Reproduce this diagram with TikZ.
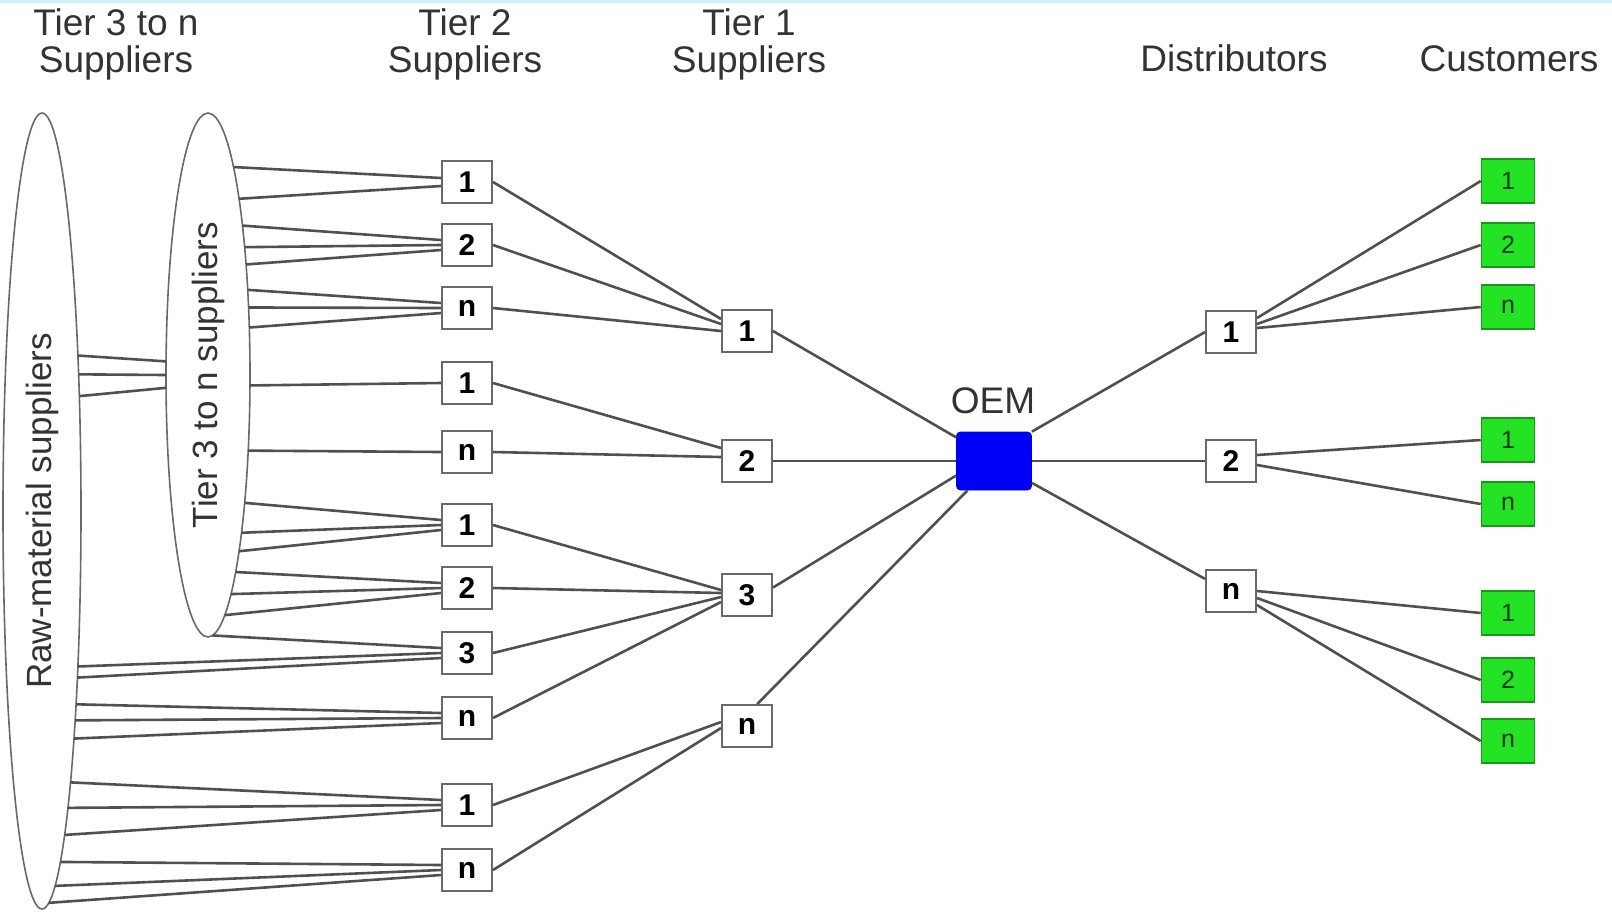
\documentclass[tikz,border=0pt]{standalone}
\usepackage{graphicx}
\usepackage{fontspec}
\setmainfont{Liberation Sans}
\usetikzlibrary{shapes.geometric}

\definecolor{wiregray}{RGB}{80,80,80}
\definecolor{boxgray}{RGB}{105,105,105}
\definecolor{custgreen}{RGB}{36,226,36}
\definecolor{custedge}{RGB}{30,150,30}
\definecolor{custtext}{RGB}{20,55,20}
\definecolor{oemblue}{RGB}{0,0,250}
\definecolor{topband}{RGB}{205,240,250}

\begin{document}
\begin{tikzpicture}[x=0.5pt,y=-0.5pt,
  wire/.style={draw=wiregray,line width=1.3pt},
  hdr/.style={font=\fontsize{18.5}{18.5}\selectfont,align=center,text=black!80,inner sep=0pt},
  lbl/.style={font=\fontsize{18.5}{18.5}\selectfont,text=black!80,inner sep=0pt},
  tierbox/.style={draw=boxgray,line width=1pt,fill=white,minimum width=25pt,
    minimum height=21pt,inner sep=0pt,font=\fontsize{15}{15}\selectfont\bfseries},
  custbox/.style={draw=custedge,line width=0.8pt,fill=custgreen,minimum width=26.5pt,
    minimum height=22pt,inner sep=0pt,font=\fontsize{12.5}{12.5}\selectfont,text=custtext},
  group/.style={ellipse,draw=boxgray,line width=0.8pt,inner sep=0pt,outer sep=0pt,
    font=\fontsize{17.5}{17.5}\selectfont,text=black!80},
]
% canvas and thin top band
\fill[white] (0,0) rectangle (1612,912);
\useasboundingbox (0,0) rectangle (1612,912);
\fill[topband] (0,0) rectangle (1612,3);

% column headings
\node[hdr,anchor=north] (h3) at (116,8) {Tier 3 to n\\Suppliers};
\node[hdr,anchor=north] (h2) at (465,8) {Tier 2\\Suppliers};
\node[hdr,anchor=north] (h1) at (749,8) {Tier 1\\Suppliers};
\node[lbl,anchor=base] (hd) at (1234,71) {Distributors};
\node[lbl,anchor=base] (hc) at (1509,71) {Customers};

% supplier groups
\node[group,minimum width=39pt,minimum height=398pt] (raw) at (42,511)
  {\rotatebox{90}{Raw-material suppliers}};
\node[group,minimum width=42pt,minimum height=262pt] (t3) at (208,375)
  {\rotatebox{90}{Tier 3 to n suppliers}};

% tier 2 suppliers
\node[tierbox] (a1) at (467,182) {1};
\node[tierbox] (a2) at (467,245) {2};
\node[tierbox] (an) at (467,308) {n};
\node[tierbox] (b1) at (467,383) {1};
\node[tierbox] (bn) at (467,452) {n};
\node[tierbox] (c1) at (467,525) {1};
\node[tierbox] (c2) at (467,588) {2};
\node[tierbox] (c3) at (467,653) {3};
\node[tierbox] (cn) at (467,718) {n};
\node[tierbox] (d1) at (467,805) {1};
\node[tierbox] (dn) at (467,870) {n};

% tier 1 suppliers
\node[tierbox] (t1a) at (747,331) {1};
\node[tierbox] (t1b) at (747,461) {2};
\node[tierbox] (t1c) at (747,595) {3};
\node[tierbox] (t1n) at (747,726) {n};

% manufacturer
\node[draw=oemblue!85!black,fill=oemblue,rounded corners=2pt,minimum width=37.5pt,
  minimum height=29pt,inner sep=0pt] (oem) at (994,461) {};
\node[lbl,anchor=base] (oemlabel) at (993,413) {OEM};

% distributors
\node[tierbox] (da) at (1231,332) {1};
\node[tierbox] (db) at (1231,461) {2};
\node[tierbox] (dc) at (1231,591) {n};

% customers
\node[custbox] (ka1) at (1508,181) {1};
\node[custbox] (ka2) at (1508,245) {2};
\node[custbox] (kan) at (1508,307) {n};
\node[custbox] (kb1) at (1508,440) {1};
\node[custbox] (kbn) at (1508,504) {n};
\node[custbox] (kc1) at (1508,613) {1};
\node[custbox] (kc2) at (1508,680) {2};
\node[custbox] (kcn) at (1508,741) {n};

% raw-material group to tier 3..n group
\foreach \ya/\yb in {350/362,373/375,395/388}{
  \pgfmathsetmacro\ha{511-\ya}
  \pgfmathsetmacro\angA{mod(atan2(\ha,39*sqrt(1-(\ha/398)*(\ha/398)))+360,360)}
  \pgfmathsetmacro\hb{375-\yb}
  \pgfmathsetmacro\angB{mod(atan2(\hb,-42*sqrt(1-(\hb/262)*(\hb/262)))+360,360)}
  \draw[wire] (raw.\angA) -- (t3.\angB);
}

% tier 3..n group to tier 2
\foreach \yy/\tg/\off in {157/a1/2,190/a1/-2,223/a2/2.5,243/a2/0,263/a2/-2.5,
    288/an/2.5,307/an/0,327/an/-2.5,385/b1/0,450/bn/0,502/c1/2.5,525/c1/0,
    545/c1/-2.5,572/c2/2.5,590/c2/0,612/c2/-2.5,633/c3/2.5}{
  \pgfmathsetmacro\h{375-\yy}
  \pgfmathsetmacro\ang{mod(atan2(\h,42*sqrt(1-(\h/262)*(\h/262)))+360,360)}
  \draw[wire] (t3.\ang) -- ([yshift=\off pt]\tg.west);
}

% raw-material group to tier 2
\foreach \yy/\tg/\off in {657/c3/0,677/c3/-2.5,698/cn/2.5,717/cn/0,737/cn/-2.5,
    778/d1/2.5,803/d1/0,823/d1/-2.5,847/dn/2.5,868/dn/0,892/dn/-2.5}{
  \pgfmathsetmacro\h{511-\yy}
  \pgfmathsetmacro\ang{mod(atan2(\h,39*sqrt(1-(\h/398)*(\h/398)))+360,360)}
  \draw[wire] (raw.\ang) -- ([yshift=\off pt]\tg.west);
}

% tier 2 to tier 1
\foreach \src/\tg/\off in {a1/t1a/6,a2/t1a/3.5,an/t1a/0,b1/t1b/6.5,bn/t1b/2,
    c1/t1c/2.5,c2/t1c/1,c3/t1c/-1,cn/t1c/-3.5,d1/t1n/2,dn/t1n/-1}{
  \draw[wire] (\src.east) -- ([yshift=\off pt]\tg.west);
}

% tier 1 to manufacturer
\draw[wire] (t1a.east) -- (oem.148);
\draw[wire] (t1b.east) -- (oem.west);
\draw[wire] (t1c.16) -- (oem.201);
\draw[wire] (t1n.65) -- (oem.228);

% manufacturer to distributors
\draw[wire] (oem.north east) -- (da.west);
\draw[wire] (oem.east) -- (db.west);
\draw[wire] (oem.330) -- (dc.155);

% distributors to customers
\draw[wire] ([yshift=7pt]da.east) -- (ka1.west);
\draw[wire] ([yshift=4pt]da.east) -- (ka2.west);
\draw[wire] ([yshift=2pt]da.east) -- (kan.west);
\draw[wire] ([yshift=3pt]db.east) -- (kb1.west);
\draw[wire] ([yshift=-2pt]db.east) -- (kbn.west);
\draw[wire] (dc.east) -- (kc1.west);
\draw[wire] ([yshift=-3.5pt]dc.east) -- (kc2.west);
\draw[wire] ([yshift=-7pt]dc.east) -- (kcn.west);
\end{tikzpicture}
\end{document}
